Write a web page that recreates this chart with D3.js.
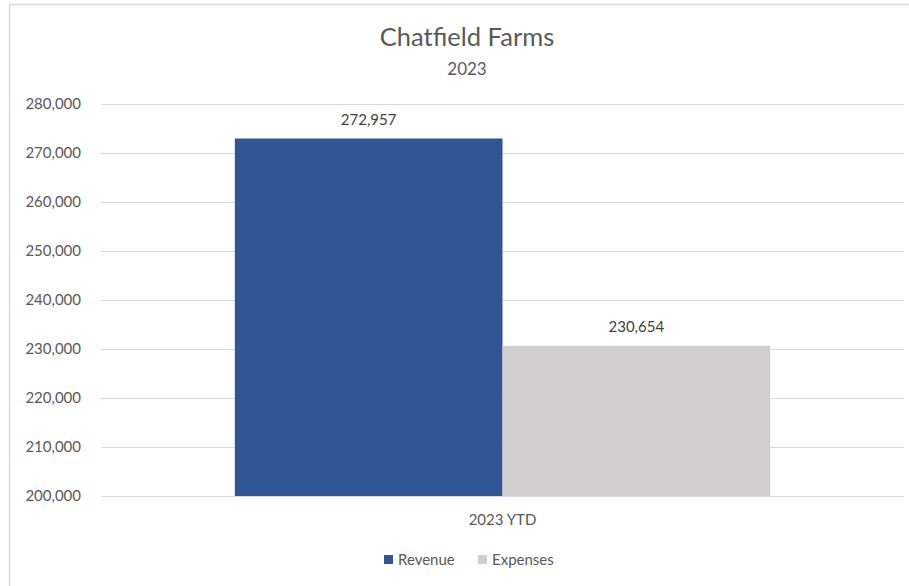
<!DOCTYPE html>
<html><head><meta charset="utf-8">
<script src="https://cdn.jsdelivr.net/npm/d3@7"></script>
<style>body{margin:0;background:#fff}svg{display:block}text{font-family:Lato,"Liberation Sans",sans-serif}</style>
</head><body><svg id="c" width="909" height="586"></svg>
<script>
const categories = ["2023 YTD"];
const seriesNames = ["Revenue", "Expenses"];
const seriesValues = [272957, 230654];
const seriesColors = ["#2f5597", "#d0cece"];
const yTicks = [200000, 210000, 220000, 230000, 240000, 250000, 260000, 270000, 280000];
const title = "Chatfield Farms";
const subtitle = "2023";

(function () {
const svg = d3.select("#c");
const W = 909, H = 586;
svg.append("line").attr("x1", 9.5).attr("x2", W).attr("y1", 4.5).attr("y2", 4.5).attr("stroke", "#d9d9d9").attr("stroke-width", 1.5);
svg.append("line").attr("x1", 9.5).attr("x2", 9.5).attr("y1", 4.5).attr("y2", H).attr("stroke", "#d9d9d9").attr("stroke-width", 1.5);

const pl = 101, pr = 904, pt = 104, pb = 496;
const y = d3.scaleLinear().domain([200000, 280000]).range([pb, pt]);
const x0 = d3.scaleBand().domain(categories).range([pl, pr]).paddingInner(0).paddingOuter(0.25);
const x1 = d3.scaleBand().domain(seriesNames).range([0, x0.bandwidth()]).padding(0);

svg.append("g").selectAll("line").data(yTicks).join("line")
  .attr("x1", pl).attr("x2", pr)
  .attr("y1", d => Math.round(y(d)) + 0.5).attr("y2", d => Math.round(y(d)) + 0.5)
  .attr("stroke", "#d9d9d9").attr("stroke-width", 1.2);

const fmt = d3.format(",");
const yAxis = d3.axisLeft(y).tickValues(yTicks).tickFormat(fmt).tickSize(0).tickPadding(0);
const ga = svg.append("g").attr("transform", "translate(81,0)").call(yAxis);
ga.select(".domain").remove();
ga.selectAll("text").attr("fill", "#595959").attr("font-size", 15).attr("font-family", "Lato,sans-serif");

const data = seriesNames.map((s, i) => ({ cat: categories[0], name: s, value: seriesValues[i], color: seriesColors[i] }));
svg.append("g").selectAll("rect").data(data).join("rect")
  .attr("x", d => x0(d.cat) + x1(d.name))
  .attr("width", x1.bandwidth())
  .attr("y", d => y(d.value))
  .attr("height", d => y(200000) - y(d.value))
  .attr("fill", d => d.color);

svg.append("g").selectAll("text").data(data).join("text")
  .attr("x", d => x0(d.cat) + x1(d.name) + x1.bandwidth() / 2)
  .attr("y", d => y(d.value) - 14)
  .attr("text-anchor", "middle").attr("fill", "#404040").attr("font-size", 15)
  .text(d => fmt(d.value));

svg.append("g").selectAll("text").data(categories).join("text")
  .attr("x", d => x0(d) + x0.bandwidth() / 2).attr("y", 525)
  .attr("text-anchor", "middle").attr("fill", "#595959").attr("font-size", 15)
  .text(d => d);

svg.append("text").attr("x", 467).attr("y", 46).attr("text-anchor", "middle")
  .attr("fill", "#595959").attr("font-size", 25.5).text(title);
svg.append("text").attr("x", 467).attr("y", 75).attr("text-anchor", "middle")
  .attr("fill", "#595959").attr("font-size", 17).text(subtitle);

const lg = svg.append("g");
const legendX = [384, 478];
seriesNames.forEach((s, i) => {
  lg.append("rect").attr("x", legendX[i]).attr("y", 555).attr("width", 9).attr("height", 9).attr("fill", seriesColors[i]);
  lg.append("text").attr("x", legendX[i] + 14).attr("y", 565).attr("fill", "#595959").attr("font-size", 15).text(s);
});
})();
</script></body></html>
